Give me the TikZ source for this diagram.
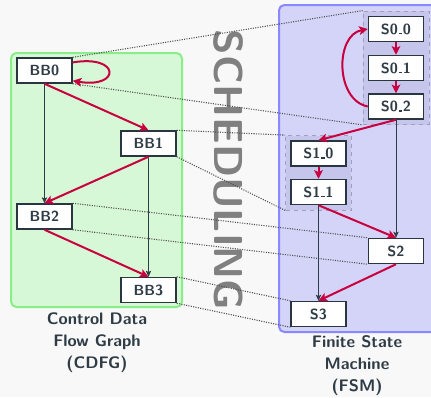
\documentclass[tikz,border=0pt]{standalone}
\usetikzlibrary{arrows.meta,fit}
\definecolor{pagebg}{RGB}{248,248,248}
\definecolor{cdfgfill}{RGB}{214,248,214}
\definecolor{cdfgline}{RGB}{136,238,136}
\definecolor{fsmfill}{RGB}{212,212,248}
\definecolor{fsmline}{RGB}{136,136,255}
\definecolor{grpfill}{RGB}{198,198,236}
\definecolor{grpline}{RGB}{160,160,184}
\definecolor{accent}{RGB}{200,0,64}
\definecolor{ink}{RGB}{47,60,70}
\definecolor{linkgray}{RGB}{80,80,80}
\definecolor{bigtext}{RGB}{128,128,128}
% short low dash used inside state names
\newcommand{\lowdash}{\kern0.04em\rule{0.26em}{0.09em}\kern0.04em}
\begin{document}
\begin{tikzpicture}[x=0.75pt,y=-0.75pt,
  blk/.style={draw=ink!90!black, line width=1.1pt, fill=white, text=ink,
    minimum width=41.25pt, minimum height=18.75pt, inner sep=0pt,
    font=\fontsize{11}{13}\selectfont\sffamily\bfseries},
  grp/.style={draw=grpline, dashed, line width=0.6pt, fill=grpfill, inner sep=4.1pt},
  redarr/.style={draw=accent, line width=1.5pt,
    -{Stealth[length=6.5pt,width=6.5pt,inset=1.5pt]}},
  darkarr/.style={draw=ink, line width=0.7pt,
    -{Stealth[length=4.5pt,width=4pt,inset=1pt]}},
  link/.style={draw=linkgray, densely dotted, line width=0.8pt},
  caption/.style={text=ink, align=center,
    font=\fontsize{12.5}{16.5}\selectfont\sffamily\bfseries}]
% page
\fill[pagebg] (0,0) rectangle (431,397);
\useasboundingbox (0,0) rectangle (431,397);
\clip (0,0) rectangle (431,397);

% container regions
\draw[fill=cdfgfill, draw=cdfgline, line width=1.5pt, rounded corners=4pt]
  (11,53) rectangle (182,307);
\draw[fill=fsmfill, draw=fsmline, line width=1.5pt, rounded corners=4pt]
  (279,5) rectangle (445,332);

% CDFG nodes
\node[blk] (BB0) at (44.5,70.5) {BB0};
\node[blk] (BB1) at (148.5,143.5) {BB1};
\node[blk] (BB2) at (44.5,216.5) {BB2};
\node[blk] (BB3) at (148.5,290) {BB3};

% FSM state positions (groups are drawn beneath the states)
\coordinate (p00) at (396,29);
\coordinate (p01) at (396,68);
\coordinate (p02) at (396,106.5);
\coordinate (p10) at (318.5,153.5);
\coordinate (p11) at (318.5,192);
\node[grp, fit={([xshift=-20.6pt,yshift=9.4pt]p00) ([xshift=20.6pt,yshift=-9.4pt]p02)}] (G0) {};
\node[grp, fit={([xshift=-20.6pt,yshift=9.4pt]p10) ([xshift=20.6pt,yshift=-9.4pt]p11)}] (G1) {};

\node[blk] (S00) at (p00) {S0\lowdash0};
\node[blk] (S01) at (p01) {S0\lowdash1};
\node[blk] (S02) at (p02) {S0\lowdash2};
\node[blk] (S10) at (p10) {S1\lowdash0};
\node[blk] (S11) at (p11) {S1\lowdash1};
\node[blk] (S2) at (396,251) {S2};
\node[blk] (S3) at (318.5,314) {S3};

% big label
\node[rotate=-90, text=bigtext, inner sep=0pt] (sched) at (229,170)
  {\scalebox{1.03}[1]{\fontsize{30.3}{32}\selectfont\sffamily\bfseries SCHEDULING}};

% mapping links
\draw[link] (BB0.north east) -- (G0.north west);
\draw[link] (BB0.south east) -- (G0.south west);
\draw[link] (BB1.north east) -- (G1.north west);
\draw[link] (BB1.south east) -- (G1.south west);
\draw[link] (BB2.north east) -- (S2.north west);
\draw[link] (BB2.south east) -- (S2.south west);
\draw[link] (BB3.north east) -- (S3.north west);
\draw[link] (BB3.south east) -- (S3.south west);

% CDFG edges
\draw[darkarr] (BB0.south) -- (BB2.north);
\draw[darkarr] (BB1.south) -- (BB3.north);
\draw[redarr] (BB0.16) .. controls +(48,-8) and +(48,8) .. (BB0.-20);
\draw[redarr] (BB0.south) -- (BB1.north);
\draw[redarr] (BB1.south) -- (BB2.north);
\draw[redarr] (BB2.south) -- (BB3.north);

% FSM edges
\draw[darkarr] (S02.south) -- (S2.north);
\draw[darkarr] (S11.south) -- (S3.north);
\draw[redarr] (S00.south) -- (S01.north);
\draw[redarr] (S01.south) -- (S02.north);
\draw[redarr] (S02.west) .. controls (335,100) and (335,35) .. (S00.west);
\draw[redarr] (S02.south) -- (S10.north);
\draw[redarr] (S10.south) -- (S11.north);
\draw[redarr] (S11.south) -- (S2.north);
\draw[redarr] (S2.south) -- (S3.north);

% captions
\node[caption] (capA) at (97,343) {Control Data\\Flow Graph\\(CDFG)};
\node[caption] (capB) at (357,366) {Finite State\\Machine\\(FSM)};
\end{tikzpicture}
\end{document}
